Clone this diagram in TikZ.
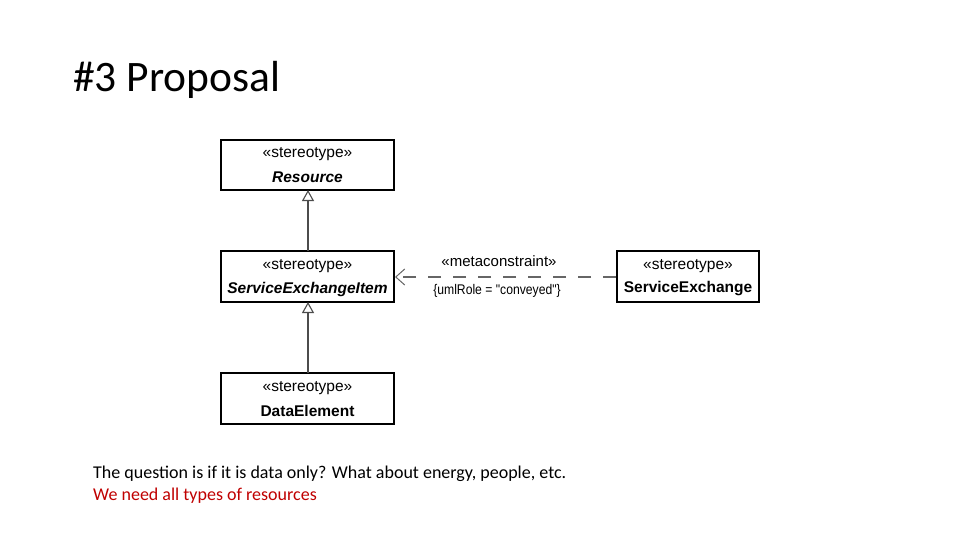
\documentclass[tikz,border=0pt]{standalone}
\usepackage{fontspec}
\usepackage{graphicx}
\setmainfont{Carlito}
\newfontfamily\umlfont{Liberation Sans}
\usetikzlibrary{arrows.meta}
\definecolor{darkred}{RGB}{192,0,0}
\begin{document}
\begin{tikzpicture}[x=1pt,y=-1pt,
  umlbox/.style={draw=black, line width=1.4pt, fill=white, inner sep=0pt},
  stereo/.style={font=\umlfont\fontsize{15.5}{18}\selectfont, anchor=center},
  gen/.style={draw=black!70, line width=1.3pt, -{Triangle[open, length=11pt, width=12pt, line width=1.1pt]}},
  dep/.style={draw=black!60, line width=1.2pt, dash pattern=on 13pt off 12pt, -{Straight Barb[length=9pt, width=16pt, line width=1pt]}},
  lbl/.style={font=\umlfont\fontsize{15}{18}\selectfont, anchor=center}
]
\useasboundingbox (0,0) rectangle (960,540);
\fill[white] (0,0) rectangle (960,540);

\node[anchor=base west, font=\fontsize{43.5}{50}\selectfont, inner sep=0pt] (title) at (73,92) {\#3 Proposal};

% boxes
\draw[umlbox] (221,140) rectangle (394,190);
\node[stereo] (resS) at (307.5,154) {«stereotype»};
\node[stereo] (resN) at (307.5,177) {\bfseries\itshape Resource};
\coordinate (resB) at (308,190);

\draw[umlbox] (221,251) rectangle (394,302);
\node[stereo] (seiS) at (307.5,266) {«stereotype»};
\node[stereo] (seiN) at (307.5,289) {\bfseries\itshape ServiceExchangeItem};
\coordinate (seiT) at (308,251);
\coordinate (seiB) at (308,302);
\coordinate (seiR) at (395,277);

\draw[umlbox] (221,373) rectangle (394,424);
\node[stereo] (deS) at (307.5,388) {«stereotype»};
\node[stereo] (deN) at (307.5,411) {\bfseries DataElement};
\coordinate (deT) at (308,373);

\draw[umlbox] (617,251) rectangle (759,302);
\node[stereo] (seS) at (688,266) {«stereotype»};
\node[stereo] (seN) at (688,289) {\bfseries ServiceExchange};
\coordinate (seL) at (616,277);

% connectors
\draw[gen] (seiT) -- (resB);
\draw[gen] (deT) -- (seiB);
\draw[dep] (seL) -- (seiR);

\node[lbl] (mc) at (499,261) {«metaconstraint»};
\node[lbl] (role) at (497,291) {\fontsize{14}{17}\selectfont\scalebox{0.87}[1]{\{umlRole = "conveyed"\}}};

% bottom text
\node[anchor=base west, inner sep=0pt, font=\fontsize{18}{21}\selectfont] (q) at (93,478) {The question is if it is data only? What about energy, people, etc.};
\node[anchor=base west, inner sep=0pt, font=\fontsize{18}{21}\selectfont, text=darkred] (r) at (93,500) {We need all types of resources};
\end{tikzpicture}
\end{document}
